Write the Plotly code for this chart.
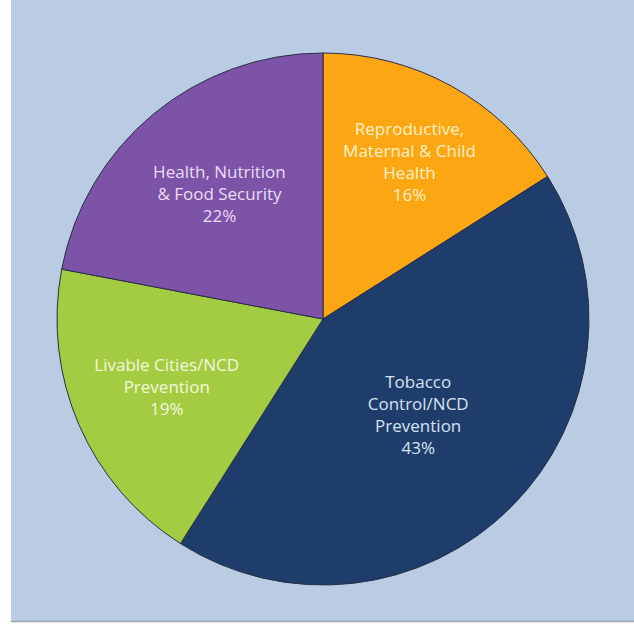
import plotly.graph_objects as go

labels = ["Reproductive,<br>Maternal & Child<br>Health",
          "Tobacco<br>Control/NCD<br>Prevention",
          "Livable Cities/NCD<br>Prevention",
          "Health, Nutrition<br>& Food Security"]
values = [16, 43, 19, 22]
colors = ["#FDA614", "#1F3D6B", "#A3CC42", "#7C53A6"]
text_colors = ["#FFF2C8", "#D6E2F2", "#F3F8DC", "#EBDDF5"]

texts = [f"{l}<br>{v}%" for l, v in zip(labels, values)]

W, H = 634, 624
cx, cy, r = 323, 319, 266

fig = go.Figure(go.Pie(
    labels=labels,
    values=values,
    text=texts,
    textinfo="text",
    hoverinfo="none",
    sort=False,
    direction="clockwise",
    rotation=0,
    marker=dict(colors=colors, line=dict(color="#2A2F45", width=1)),
    textposition="inside",
    insidetextorientation="horizontal",
    insidetextfont=dict(family="Open Sans, Noto Sans, sans-serif", size=17, color=text_colors),
    domain=dict(x=[(cx - r) / W, (cx + r) / W], y=[1 - (cy + r) / H, 1 - (cy - r) / H]),
    showlegend=False,
))

fig.update_layout(
    width=W, height=H,
    margin=dict(l=0, r=0, t=0, b=0),
    paper_bgcolor="white",
    shapes=[
        dict(type="rect", xref="paper", yref="paper",
             x0=11 / W, x1=1, y0=1 - 621 / H, y1=1,
             fillcolor="#B9CCE4", line=dict(width=0), layer="below"),
        dict(type="line", xref="paper", yref="paper",
             x0=11 / W, x1=1, y0=1 - 621.5 / H, y1=1 - 621.5 / H,
             line=dict(color="#9AA3AE", width=1.5), layer="below"),
    ],
)

fig.write_html("out.html",
               config={"displayModeBar": False},
               post_script="document.body.style.margin='0';document.body.style.overflow='hidden';")
